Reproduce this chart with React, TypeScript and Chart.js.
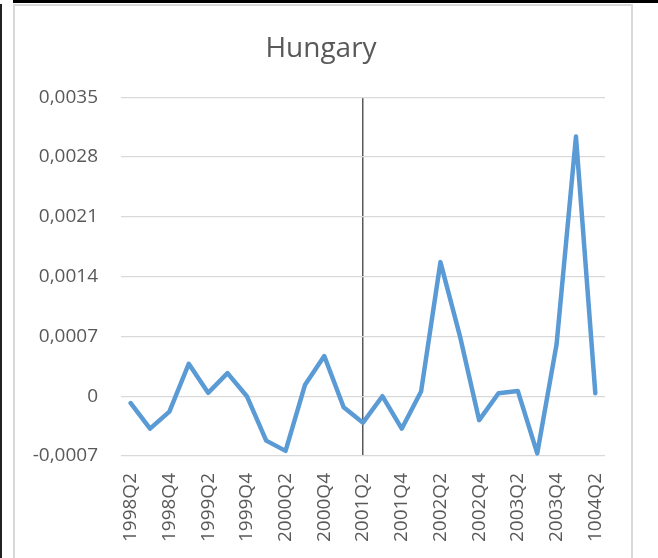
import React, { useEffect, useRef } from "react";
import { Chart, registerables } from "chart.js";

Chart.register(...registerables);

const categories = [
  "1998Q2", "1998Q3", "1998Q4", "1999Q1", "1999Q2", "1999Q3", "1999Q4",
  "2000Q1", "2000Q2", "2000Q3", "2000Q4", "2001Q1", "2001Q2", "2001Q3",
  "2001Q4", "2002Q1", "2002Q2", "2002Q3", "2002Q4", "2003Q1", "2003Q2",
  "2003Q3", "2003Q4", "2004Q1", "1004Q2",
];

const values = [
  -0.00008, -0.00038, -0.00018, 0.00038, 0.00004, 0.00027, 0.0,
  -0.00052, -0.00064, 0.00013, 0.00047, -0.00013, -0.00031, 0.0,
  -0.00038, 0.000055, 0.00157, 0.00071, -0.00028, 0.000035, 0.00006,
  -0.00067, 0.00061, 0.00304, 0.000035,
];

const yTicks = [-0.0007, 0, 0.0007, 0.0014, 0.0021, 0.0028, 0.0035];
const markerCategory = "2001Q2";
const title = "Hungary";

const FONT = "'Open Sans', 'Noto Sans', sans-serif";
const TEXT = "#595959";

export default function App() {
  const ref = useRef<HTMLCanvasElement | null>(null);

  useEffect(() => {
    if (!ref.current) return;
    const markerIndex = categories.indexOf(markerCategory);
    const chart = new Chart(ref.current, {
      type: "line",
      data: {
        labels: categories,
        datasets: [
          {
            data: values,
            borderColor: "#5b9bd5",
            backgroundColor: "#5b9bd5",
            borderWidth: 4.5,
            pointRadius: 0,
            tension: 0,
            borderJoinStyle: "round",
            borderCapStyle: "round",
            yAxisID: "y",
          },
        ],
      },
      options: {
        animation: false,
        responsive: false,
        layout: { padding: { left: 21, right: 37, top: 0, bottom: 0 } },
        plugins: {
          legend: { display: false },
          tooltip: { enabled: false },
          title: {
            display: true,
            text: title,
            color: TEXT,
            font: { family: FONT, size: 28, weight: "normal" },
            padding: { top: 32, bottom: 31.7 },
          },
        },
        scales: {
          x: {
            type: "category",
            offset: true,
            grid: {
              offset: false,
              drawTicks: false,
              color: (ctx: any) => (ctx.index === markerIndex ? "#595959" : "rgba(0,0,0,0)"),
              lineWidth: 1.5,
            },
            border: { display: false },
            ticks: {
              autoSkip: false,
              minRotation: 90,
              maxRotation: 90,
              padding: 17,
              color: TEXT,
              font: { family: FONT, size: 19 },
              callback: (_v: any, i: number) => (i % 2 === 0 ? categories[i] : ""),
            },
            afterFit: (s: any) => {
              s.height = 102;
            },
          },
          y: {
            position: "left",
            min: -0.0007,
            max: 0.0035,
            afterBuildTicks: (s: any) => {
              s.ticks = yTicks.map((v) => ({ value: v }));
            },
            grid: { color: "#d9d9d9", lineWidth: 1.3, drawTicks: false },
            border: { display: false },
            ticks: {
              padding: 23,
              color: TEXT,
              font: { family: FONT, size: 19 },
              callback: (v: any) => {
                const n = Number(v);
                if (Math.abs(n) < 1e-12) return "0";
                return n.toFixed(4).replace(".", ",");
              },
            },
            afterFit: (s: any) => {
              s.width = 100;
            },
          },
          spacer: {
            type: "linear",
            position: "right",
            display: true,
            grid: { display: false, drawTicks: false },
            border: { display: false },
            ticks: { display: false },
            afterFit: (s: any) => {
              s.width = 16;
            },
          },
        },
      },
    });
    return () => chart.destroy();
  }, []);

  return (
    <div style={{ position: "fixed", left: 0, top: 0, width: 658, height: 558, background: "#fff", overflow: "hidden" }}>
      <div style={{ position: "absolute", left: 13, top: 4, width: 620, height: 600, border: "2px solid #d9d9d9", boxSizing: "border-box" }} />
      <div style={{ position: "absolute", left: 0, top: 4, width: 2, height: 554, background: "#222" }} />
      <div style={{ position: "absolute", left: 13, top: 0, width: 645, height: 3, background: "#000" }} />
      <canvas ref={ref} width={658} height={558} style={{ position: "absolute", left: 0, top: 0, width: 658, height: 558 }} />
    </div>
  );
}
